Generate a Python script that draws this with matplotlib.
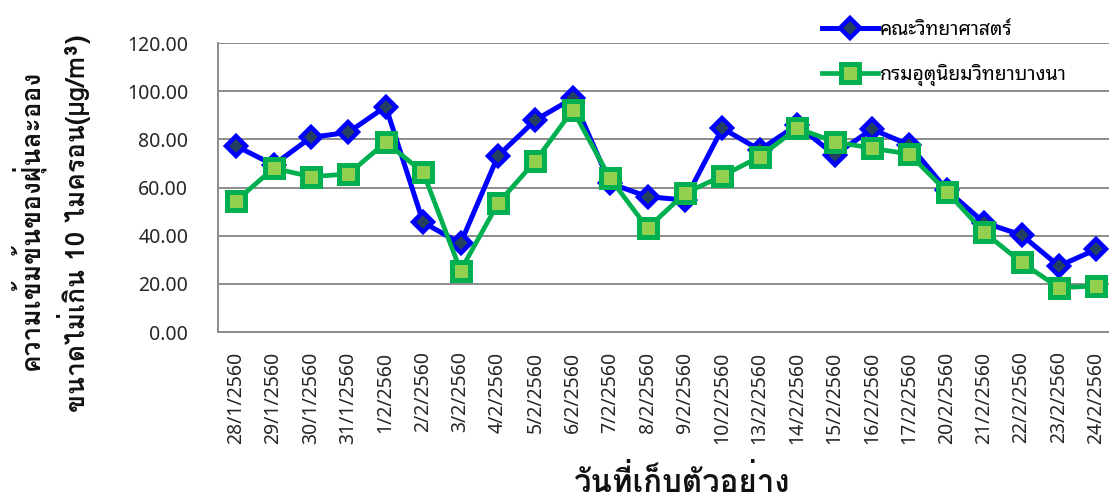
import matplotlib
matplotlib.use("Agg")
import matplotlib.pyplot as plt

# ---------------- data ----------------
dates = ["28/1/2560", "29/1/2560", "30/1/2560", "31/1/2560", "1/2/2560", "2/2/2560",
         "3/2/2560", "4/2/2560", "5/2/2560", "6/2/2560", "7/2/2560", "8/2/2560",
         "9/2/2560", "10/2/2560", "13/2/2560", "14/2/2560", "15/2/2560", "16/2/2560",
         "17/2/2560", "20/2/2560", "21/2/2560", "22/2/2560", "23/2/2560", "24/2/2560"]
science = [77.2, 69.4, 80.8, 82.9, 93.6, 45.5, 36.8, 73.1, 88.0, 97.0, 61.7, 56.2,
           54.8, 84.6, 75.6, 86.0, 73.5, 84.2, 77.7, 59.0, 45.4, 40.3, 27.4, 34.3]
met_dept = [54.5, 68.0, 64.5, 65.6, 78.8, 66.3, 25.5, 53.4, 71.0, 92.2, 63.8, 43.1,
            57.6, 64.8, 72.8, 84.6, 79.0, 76.3, 73.9, 58.3, 41.4, 28.9, 18.4, 19.1]
series_names = ["คณะวิทยาศาสตร์", "กรมอุตุนิยมวิทยาบางนา"]
yticks = [0, 20, 40, 60, 80, 100, 120]
xlabel = "วันที่เก็บตัวอย่าง"
ylabel_lines = ["ความเข้มข้นของฝุ่นละออง", "ขนาดไม่เกิน 10 ไมครอน(µg/m³)"]

plt.rcParams["font.family"] = ["Noto Sans", "Noto Sans Thai Looped", "DejaVu Sans"]
title_family = ["Loma", "DejaVu Sans"]

W, H = 1109, 498
fig = plt.figure(figsize=(W / 100, H / 100), dpi=100)
left_px, right_px, top_px, bot_px = 217.5, 1115, 43, 332
ax = fig.add_axes([left_px / W, 1 - bot_px / H, (right_px - left_px) / W, (bot_px - top_px) / H])

x = list(range(len(dates)))
ax.plot(x, science, color="#0000FF", lw=3.6, marker="D", ms=10, mew=3.2,
        mec="#0000FF", mfc="#243F60", label=series_names[0], zorder=3, clip_on=False)
ax.plot(x, met_dept, color="#00B050", lw=3.4, marker="s", ms=13, mew=3.6,
        mec="#00B050", mfc="#92D050", label=series_names[1], zorder=4, clip_on=False)

ax.set_xlim(-0.5, len(dates) - 0.5)
ax.set_ylim(0, 120)
ax.set_yticks(yticks)
ax.set_yticklabels([f"{v:.2f}" for v in yticks])
ax.set_xticks(x)
ax.set_xticklabels(dates, rotation=90)
ax.tick_params(length=0, labelsize=14, colors="#262626")
ax.tick_params(axis="y", pad=21)
ax.tick_params(axis="x", pad=14)
ax.yaxis.grid(True, color="#8c8c8c", lw=1.4)
ax.set_axisbelow(True)
for s in ["top", "right"]:
    ax.spines[s].set_visible(False)
for s in ["left", "bottom"]:
    ax.spines[s].set_color("#8c8c8c")
    ax.spines[s].set_linewidth(1.4)

fig.text(681 / W, 1 - 481 / H, xlabel, ha="center", va="center", fontsize=22.5,
         fontweight="bold", color="#111111", family=title_family)
fig.text(28 / W, 1 - 220 / H, ylabel_lines[0], ha="center", va="center", rotation=90,
         fontsize=19, fontweight="bold", color="#111111", family=title_family)
fig.text(74 / W, 1 - 223 / H, ylabel_lines[1], ha="center", va="center", rotation=90,
         fontsize=19, fontweight="bold", color="#111111", family=title_family)

leg = fig.legend(loc="center left", bbox_to_anchor=(804 / W, 1 - 53 / H), frameon=False,
                 fontsize=14, handlelength=2.9, handletextpad=0.1, labelspacing=1.26)

fig.savefig("out.png", dpi=100)
